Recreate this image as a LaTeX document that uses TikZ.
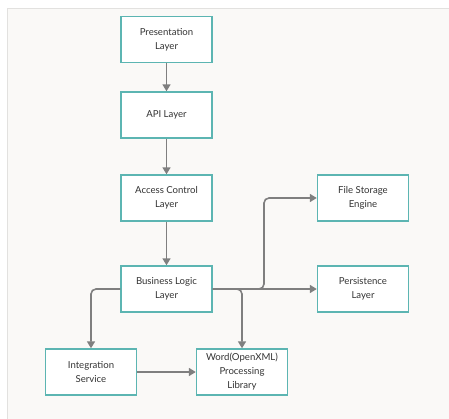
\documentclass[tikz,border=0pt]{standalone}
\usepackage{fontspec}
\setmainfont{Lato}
\usetikzlibrary{arrows.meta}
\definecolor{panel}{HTML}{FAF9F7}
\definecolor{edge}{HTML}{E2E1DF}
\definecolor{teal}{HTML}{5CB5B2}
\definecolor{arr}{HTML}{7F7F7F}
\definecolor{txt}{HTML}{333333}
\begin{document}
\begin{tikzpicture}[x=1pt,y=-1pt,
  box/.style={draw=teal,line width=1.4pt,fill=white,minimum width=91pt,minimum height=46pt,
    inner sep=1pt,align=center,font=\fontsize{9.6}{14}\selectfont,text=txt},
  conn/.style={draw=arr,line width=1.6pt,rounded corners=5pt,-{Triangle[length=7pt,width=8pt]}}]
\useasboundingbox (0,0) rectangle (449,419);
\fill[white] (0,0) rectangle (449,419);
\fill[panel] (7,8) rectangle (449,419);
\draw[edge,line width=0.8pt] (7,419) -- (7,8) -- (449,8);
\node[box] (pres) at (166.5,39.5) {Presentation\\Layer};
\node[box] (api) at (166.5,115) {API Layer};
\node[box] (acc) at (166.5,198) {Access Control\\Layer};
\node[box] (bl) at (166.5,289) {Business Logic\\Layer};
\node[box] (fs) at (363,198) {File Storage\\Engine};
\node[box] (pers) at (363,289) {Persistence\\Layer};
\node[box] (int) at (91,372) {Integration\\Service};
\node[box] (word) at (242,372) {Word(OpenXML)\\Processing\\Library};
\draw[conn] (pres) -- (api);
\draw[conn] (api) -- (acc);
\draw[conn] (acc) -- (bl);
\draw[conn] (bl.west) -| (int.north);
\draw[conn] (bl.east) -- (pers.west);
\draw[conn] (bl.east) -| (264,250) |- (fs.west);
\draw[conn] (bl.east) -| (word.north);
\draw[conn] (int) -- (word);
\end{tikzpicture}
\end{document}
